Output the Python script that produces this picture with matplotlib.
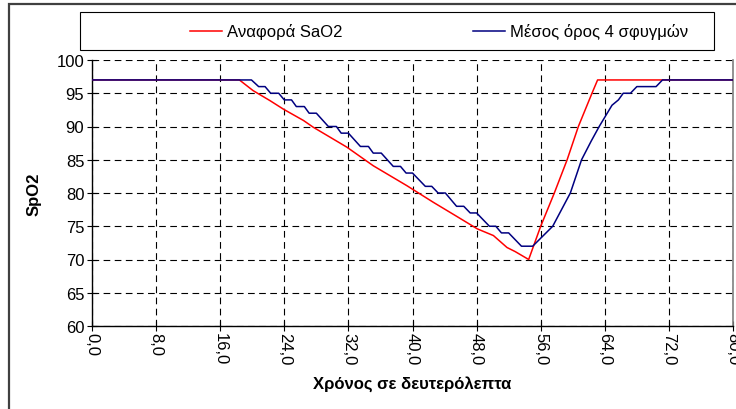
import numpy as np
import matplotlib
matplotlib.use("Agg")
import matplotlib.pyplot as plt
from matplotlib.patches import Rectangle
from matplotlib.lines import Line2D

plt.rcParams['font.family'] = ['Liberation Sans', 'DejaVu Sans']

# reference SaO2 (red)
t_ref = [0, 18.4, 20.1, 22.2, 23.9, 26.4, 27.6, 31.8, 35.1, 39.3, 42.6, 45.5,
         48.1, 50.1, 51.8, 52.8, 54.5, 56.0, 57.7, 59.3, 60.7, 62.4, 63.1, 80]
sao2_ref = [97, 97, 95.4, 93.9, 92.6, 90.9, 89.9, 86.9, 84.1, 81.1, 78.6, 76.5,
            74.6, 73.6, 71.8, 71.2, 70, 75, 80, 85, 90, 95, 97, 97]

# 4-pulse average (blue, stepped)
t_avg = [0, 19.9, 20.8, 21.6, 22.3, 23.3, 24.0, 24.9, 25.5, 26.5, 27.1, 28.0,
         29.5, 30.5, 31.1, 32.0, 33.5, 34.5, 35.1, 36.1, 37.6, 38.5, 39.2, 40.0,
         41.6, 42.4, 43.2, 44.1, 45.5, 46.4, 47.2, 48.0, 49.6, 50.4, 51.1, 52.0,
         53.6, 55.0, 57.5, 59.7, 61.1, 62.3, 63.3, 64.9, 65.7, 66.3, 67.2, 68.0,
         70.4, 71.2, 80]
spo2_avg = [97, 97, 96, 96, 95, 95, 94, 94, 93, 93, 92, 92,
            90, 90, 89, 89, 87, 87, 86, 86, 84, 84, 83, 83,
            81, 81, 80, 80, 78, 78, 77, 77, 75, 75, 74, 74,
            72, 72, 75, 80, 85, 87.8, 90, 93.2, 94, 95, 95, 96,
            96, 97, 97]

series_names = ['Αναφορά SaO2', 'Μέσος όρος 4 σφυγμών']
series_colors = ['#FF0000', '#000080']
x_ticks = np.arange(0, 81, 8)
y_ticks = np.arange(60, 101, 5)

W, H = 736, 410
fig = plt.figure(figsize=(W / 100, H / 100), dpi=100)
ax = fig.add_axes([92 / W, 1 - 327 / H, (733 - 92) / W, (327 - 61) / H])

ax.plot(t_ref, sao2_ref, color=series_colors[0], lw=1.1, zorder=3)
ax.plot(t_avg, spo2_avg, color=series_colors[1], lw=1.1, zorder=3)

ax.set_xlim(0, 80)
ax.set_ylim(60, 100)
ax.set_xticks(x_ticks)
ax.set_xticklabels([f"{v:.1f}".replace('.', ',') for v in x_ticks],
                   rotation=-90, fontsize=12)
ax.set_yticks(y_ticks)
ax.set_yticklabels([str(v) for v in y_ticks], fontsize=12)
ax.tick_params(direction='inout', length=7, width=0.8, colors='black')
ax.tick_params(axis='x', pad=1)
ax.tick_params(axis='y', pad=2)

ax.grid(True, color='black', linestyle=(0, (6, 4)), linewidth=0.8)
ax.spines['top'].set_visible(False)
ax.spines['right'].set_color('#808080')
ax.spines['right'].set_linewidth(1.2)
for s in ('left', 'bottom'):
    ax.spines[s].set_color('black')
    ax.spines[s].set_linewidth(1.0)

ax.set_xlabel('Χρόνος σε δευτερόλεπτα', fontsize=12, fontweight='bold')
ax.set_ylabel('SpO2', fontsize=12, fontweight='bold')
ax.xaxis.set_label_coords(0.5, -0.186)
ax.yaxis.set_label_coords(-0.079, 0.5)

# outer chart frame
fig.add_artist(Rectangle((9 / W, -0.05), 1.1, 1 - 5 / H + 0.05,
                         transform=fig.transFigure, fill=False,
                         edgecolor='#404040', linewidth=1.6))

# legend box across the top
fig.add_artist(Rectangle((80 / W, 1 - 51 / H), (714 - 80) / W, (51 - 13) / H,
                         transform=fig.transFigure, fill=False,
                         edgecolor='black', linewidth=0.8))
leg_y = 1 - 32 / H
for x0, name, col in zip([190, 473], series_names, series_colors):
    fig.add_artist(Line2D([x0 / W, (x0 + 32) / W], [leg_y, leg_y],
                          transform=fig.transFigure, color=col, lw=1.1))
    fig.text((x0 + 37) / W, leg_y, name, fontsize=12, va='center', ha='left')

fig.savefig('out.png', dpi=100)
